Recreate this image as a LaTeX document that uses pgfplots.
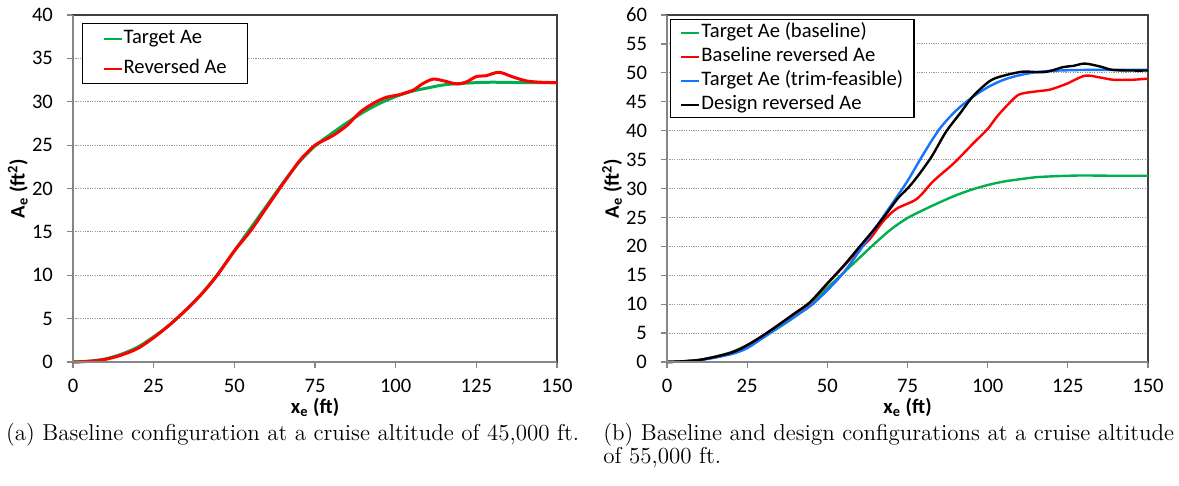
\documentclass[border=0pt]{standalone}
\usepackage{fontspec}
\usepackage{pgfplots}
\pgfplotsset{compat=1.18}
\newfontfamily\calibri{Carlito}
\definecolor{xgreen}{RGB}{0,176,80}
\definecolor{xred}{RGB}{255,0,0}
\definecolor{xblue}{RGB}{20,115,255}
\definecolor{axgray}{RGB}{134,134,134}
\definecolor{gridgray}{RGB}{150,150,150}
\pgfplotsset{
  myaxis/.style={
    scale only axis,
    anchor=south west,
    height=173.5pt,
    xmin=0, xmax=150,
    xtick={0,25,50,75,100,125,150},
    ymin=0,
    axis line style={draw=black!75, line width=0.6pt},
    tick align=outside,
    major tick length=3pt,
    xtick pos=left, ytick pos=left,
    tick style={axgray, line width=0.6pt},
    ymajorgrids,
    major grid style={gridgray, line width=0.5pt, dash pattern=on 0.6pt off 0.6pt},
    /pgf/number format/assume math mode=true,
    ticklabel style={font=\calibri\fontsize{10.3}{11}\selectfont},
    yticklabel style={xshift=-3.5pt},
    xticklabel style={yshift=-2pt},
    xlabel={\bfseries x\textsubscript{e} (ft)},
    ylabel={\bfseries A\textsubscript{e} (ft\textsuperscript{2})},
    label style={font=\calibri\fontsize{10.3}{11}\selectfont},
    xlabel style={at={(axis description cs:0.5,-0.13)}, anchor=center},
    ylabel style={at={(axis description cs:-0.114,0.5)}, anchor=center, rotate=0},
    legend cell align=left,
    legend image code/.code={\draw[#1, line width=1pt] (0pt,0pt) -- (9pt,0pt);},
    clip=false,
  },
}
\begin{document}
\begin{tikzpicture}
\useasboundingbox (0,0) rectangle (589.5pt,243pt);
% ---------------- left panel ----------------
\begin{axis}[myaxis,
  at={(36.5pt,62pt)}, width=242pt,
  ymax=40, ytick={0,5,...,40},
  legend style={at={(axis description cs:0.0186,0.977)}, anchor=north west,
    draw=black, line width=0.6pt, fill=white,
    font=\calibri\fontsize{10.3}{11}\selectfont,
    inner xsep=10pt, inner ysep=2pt, row sep=4pt,
    nodes={inner xsep=0.5pt, inner ysep=0.5pt, text height=7.5pt, text depth=2.5pt}},
]
\addplot[xgreen, line width=1.5pt, smooth, tension=0.5] coordinates {
(0,0) (5,0.1) (10,0.35) (15,0.9) (20,1.7) (25,2.9) (30,4.3) (35,6.0) (40,7.9)
(45,10.2) (50,12.8) (55,15.4) (60,18.0) (65,20.6) (70,23.0) (75,24.9) (80,26.3)
(85,27.6) (90,28.8) (95,29.8) (100,30.6) (105,31.2) (110,31.6) (115,31.95)
(120,32.1) (125,32.2) (130,32.25) (140,32.2) (150,32.2)};
\addlegendentry{Target Ae}
\addplot[xred, line width=1.5pt, smooth, tension=0.5] coordinates {
(0,0) (5,0.08) (10,0.3) (15,0.8) (20,1.55) (25,2.8) (30,4.3) (35,6.0) (40,7.9)
(44.5,9.9) (50,12.8) (55,15.1) (60,17.8) (65,20.5) (70,23.1) (73,24.3) (75,25.0)
(78,25.6) (81,26.2) (85,27.3) (89,28.8) (93,29.8) (97,30.5) (101,30.8)
(105.5,31.35) (108,32.0) (111.5,32.6) (115,32.4) (119,32.05) (122,32.3)
(125,32.9) (128,33.0) (132,33.4) (136,32.9) (140.5,32.4) (145,32.25) (150,32.2)};
\addlegendentry{Reversed Ae}
\draw[axgray, line width=0.6pt] (rel axis cs:0,1) -- (rel axis cs:0,0) -- (rel axis cs:1,0);
\end{axis}
% ---------------- right panel ----------------
\begin{axis}[myaxis,
  at={(333.5pt,62pt)}, width=240.5pt,
  ymax=60, ytick={0,5,...,60},
  legend style={at={(axis description cs:0.006,0.988)}, anchor=north west,
    draw=black, line width=0.6pt, fill=white,
    font=\calibri\fontsize{10.3}{11}\selectfont,
    inner xsep=5pt, inner ysep=1pt, row sep=1pt,
    nodes={inner xsep=0.5pt, inner ysep=0.5pt, text height=7.5pt, text depth=2.5pt}},
]
\addplot[xgreen, line width=1.2pt, smooth, tension=0.5] coordinates {
(0,0) (5,0.1) (10,0.35) (15,0.9) (20,1.7) (25,2.9) (30,4.3) (35,6.0) (40,7.9)
(45,10.2) (50,12.8) (55,15.4) (60,18.0) (65,20.6) (70,23.0) (75,24.9) (80,26.3)
(85,27.6) (90,28.8) (95,29.8) (100,30.6) (105,31.2) (110,31.6) (115,31.95)
(120,32.1) (125,32.2) (130,32.25) (140,32.2) (150,32.2)};
\addlegendentry{Target Ae (baseline)}
\addplot[xred, line width=1.2pt, smooth, tension=0.5] coordinates {
(0,0) (10,0.35) (20,1.6) (25,2.9) (30,4.6) (35,6.5) (40,8.4) (44.5,10.2)
(50,13.5) (55,16.5) (60,19.5) (63.3,21.3) (67.5,24.4) (71.6,26.5) (77.9,28.2)
(83.1,31.3) (89.3,34.3) (95.5,37.8) (100,40.3) (103,42.5) (107,44.9) (110,46.3)
(115.3,46.8) (119.4,47.1) (124.6,48.1) (130.3,49.5) (135,49.2) (139.2,48.8)
(145,48.8) (150,49.0)};
\addlegendentry{Baseline reversed Ae}
\addplot[xblue, line width=1.2pt, smooth, tension=0.5] coordinates {
(0,0) (10,0.3) (20,1.35) (25,2.4) (30,4.2) (35,6.1) (40,7.9) (45,9.8)
(50,12.4) (55,15.4) (60,19.2) (65,23.2) (70,27.2) (75,31.3) (80,36.0)
(85,40.3) (90,43.4) (95,45.7) (100,47.5) (105,48.8) (110,49.6) (115,50.1)
(120,50.35) (130,50.5) (140,50.5) (150,50.5)};
\addlegendentry{Target Ae (trim-feasible)}
\addplot[black, line width=1.2pt, smooth, tension=0.5] coordinates {
(0,0) (10,0.35) (20,1.6) (25,2.9) (30,4.6) (35,6.5) (40,8.5) (44.5,10.3)
(50,13.6) (55,16.6) (60,19.9) (65,23.2) (68.5,25.7) (72,28.3) (75,30.0)
(78,32.0) (82.5,35.5) (87,39.8) (91.4,43.0) (95.5,46.0) (100.7,48.6)
(104.9,49.5) (111,50.2) (117,50.1) (120,50.4) (123.6,51.0) (126.7,51.2)
(130.3,51.6) (135,51.1) (139,50.5) (145,50.4) (150,50.4)};
\addlegendentry{Design reversed Ae}
\draw[axgray, line width=0.6pt] (rel axis cs:0,1) -- (rel axis cs:0,0) -- (rel axis cs:1,0);
\end{axis}
% ---------------- captions ----------------
\node[anchor=base, font=\fontsize{11.5}{12}\selectfont, inner sep=0pt] at (146.3pt,22.5pt)
  {(a)\ Baseline configuration at a cruise altitude of 45,000 ft.};
\node[anchor=base west, font=\fontsize{11.5}{12}\selectfont, inner sep=0pt] at (301.5pt,22.5pt)
  {(b)\ Baseline and design configurations at a cruise altitude};
\node[anchor=base west, font=\fontsize{11.5}{12}\selectfont, inner sep=0pt] at (301.5pt,11pt)
  {of 55,000 ft.};
\end{tikzpicture}
\end{document}
